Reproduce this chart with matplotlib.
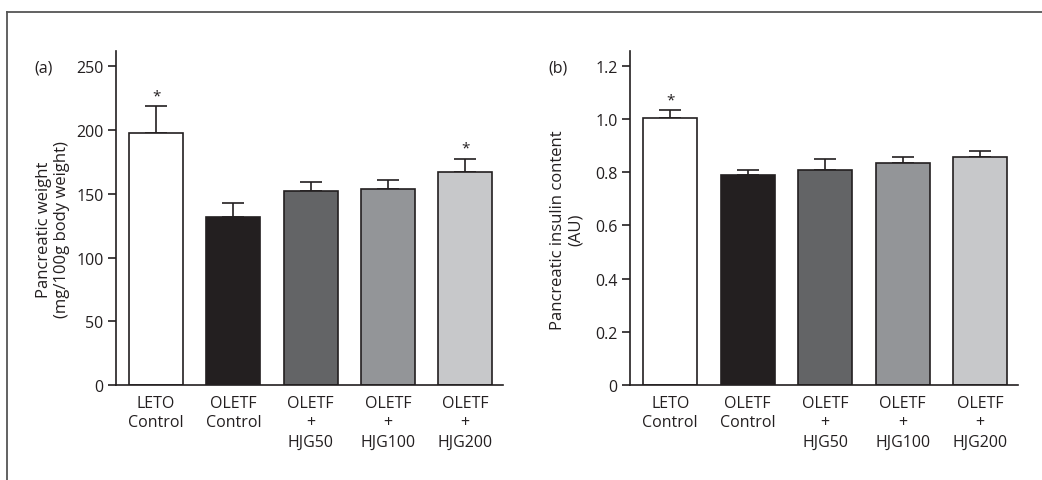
import matplotlib
matplotlib.use("Agg")
import matplotlib.pyplot as plt
from matplotlib.lines import Line2D

plt.rcParams['font.family'] = ['Open Sans', 'DejaVu Sans']

groups = ["LETO\nControl", "OLETF\nControl", "OLETF\n+\nHJG50",
          "OLETF\n+\nHJG100", "OLETF\n+\nHJG200"]
colors = ["#ffffff", "#231f20", "#636466", "#939598", "#c7c8ca"]

weight = [198, 132, 152, 154, 167]
weight_err = [21, 11, 7.5, 7, 10.5]
weight_sig = [True, False, False, False, True]

insulin = [1.004, 0.789, 0.806, 0.835, 0.856]
insulin_err = [0.03, 0.02, 0.045, 0.023, 0.024]
insulin_sig = [True, False, False, False, False]

INK = "#231f20"


def draw_panel(ax, vals, errs, sig, ylim, yticks, yticklabels, ylabel, tag):
    x = range(len(vals))
    ax.bar(x, vals, width=0.7, color=colors, edgecolor=INK, linewidth=1.2, zorder=2)
    ax.errorbar(x, vals, yerr=[[0] * len(errs), errs], fmt="none", ecolor=INK,
                elinewidth=1.2, capsize=8, capthick=1.2, zorder=1)
    for i, s in enumerate(sig):
        if s:
            ax.annotate("*", (i, vals[i] + errs[i]), xytext=(0, 2), textcoords="offset points",
                        ha="center", va="bottom", fontsize=11, color=INK)
    ax.set_xlim(-0.52, 4.49)
    ax.set_ylim(*ylim)
    ax.set_yticks(yticks)
    ax.set_yticklabels(yticklabels)
    ax.set_xticks(list(x))
    ax.set_xticklabels(groups, linespacing=1.28)
    ax.tick_params(axis="x", length=0, pad=7, labelsize=11.5, colors=INK)
    ax.tick_params(axis="y", length=6, width=1.2, direction="out", pad=3,
                   labelsize=11.5, colors=INK)
    for sp in ["top", "right"]:
        ax.spines[sp].set_visible(False)
    for sp in ["left", "bottom"]:
        ax.spines[sp].set_linewidth(1.2)
        ax.spines[sp].set_color(INK)
    ax.set_ylabel(ylabel, fontsize=12, linespacing=1.15, color=INK)
    ax.yaxis.set_label_coords(-0.12, 0.467)
    ax.text(-0.21, 0.95, tag, transform=ax.transAxes, fontsize=11.5, va="center", ha="left",
            color=INK)


fig = plt.figure(figsize=(10.42, 4.81), dpi=100)
ax1 = fig.add_axes([0.1113, 0.1975, 0.3714, 0.6944])
ax2 = fig.add_axes([0.6046, 0.1975, 0.3724, 0.6944])

draw_panel(ax1, weight, weight_err, weight_sig, (0, 262),
           [0, 50, 100, 150, 200, 250], ["0", "50", "100", "150", "200", "250"],
           "Pancreatic weight\n(mg/100g body weight)", "(a)")
draw_panel(ax2, insulin, insulin_err, insulin_sig, (0, 1.255),
           [0, 0.2, 0.4, 0.6, 0.8, 1.0, 1.2], ["0", "0.2", "0.4", "0.6", "0.8", "1.0", "1.2"],
           "Pancreatic insulin content\n(AU)", "(b)")

# frame lines (top and left)
fig.add_artist(Line2D([0.0067, 1.0], [0.973, 0.973], color="#555555", linewidth=1.3,
                      transform=fig.transFigure))
fig.add_artist(Line2D([0.0067, 0.0067], [0.0, 0.973], color="#555555", linewidth=1.3,
                      transform=fig.transFigure))

fig.savefig("out.png", dpi=100)
